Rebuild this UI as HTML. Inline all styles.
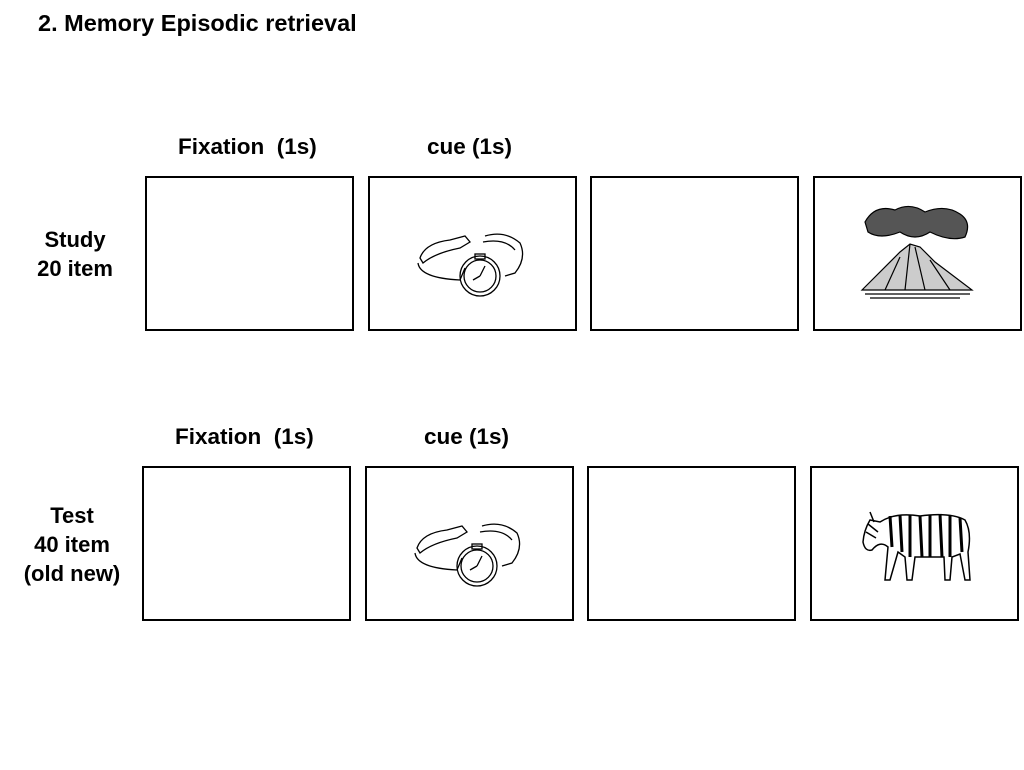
<!DOCTYPE html>
<html><head><meta charset="utf-8"><style>
body{margin:0;width:1024px;height:770px;background:#fff;position:relative;overflow:hidden;font-family:"Liberation Sans",Arial,sans-serif;font-weight:bold;color:#000}
.t{position:absolute;font-size:22.5px;white-space:pre;line-height:29px}
.r{font-size:22px}
.box{position:absolute;width:205px;height:151px;border:2px solid #000;box-sizing:content-box}
svg{position:absolute}
</style></head><body>
<div class="t" style="left:38px;top:9px;font-size:23.5px">2. Memory Episodic retrieval</div>

<div class="t" style="left:178px;top:132px">Fixation  (1s)</div>
<div class="t" style="left:427px;top:132px">cue (1s)</div>
<div class="t r" style="left:14px;top:225px;width:122px;text-align:center">Study
20 item</div>
<div class="box" style="left:145px;top:176px"></div>
<div class="box" style="left:368px;top:176px"></div>
<div class="box" style="left:590px;top:176px"></div>
<div class="box" style="left:813px;top:176px"></div>

<div class="t" style="left:175px;top:422px">Fixation  (1s)</div>
<div class="t" style="left:424px;top:422px">cue (1s)</div>
<div class="t r" style="left:6px;top:501px;width:132px;text-align:center">Test
40 item
(old new)</div>
<div class="box" style="left:142px;top:466px"></div>
<div class="box" style="left:365px;top:466px"></div>
<div class="box" style="left:587px;top:466px"></div>
<div class="box" style="left:810px;top:466px"></div>

<svg style="left:415px;top:228px" width="115" height="72" viewBox="0 0 115 72">
<g fill="none" stroke="#000" stroke-width="1.3">
<path d="M5 30 Q10 15 35 12 L50 8 L55 14 L45 20 Q20 25 8 35 Z"/>
<path d="M3 35 Q5 50 45 52 L50 40"/>
<path d="M70 8 Q90 2 105 15 Q112 30 100 45 L90 48"/>
<path d="M68 14 Q90 10 100 22"/>
<circle cx="65" cy="48" r="20"/><circle cx="65" cy="48" r="16"/>
<path d="M65 48 L70 38 M65 48 L58 52"/>
<rect x="60" y="26" width="10" height="5"/>
</g></svg>
<svg style="left:412px;top:518px" width="115" height="72" viewBox="0 0 115 72">
<g fill="none" stroke="#000" stroke-width="1.3">
<path d="M5 30 Q10 15 35 12 L50 8 L55 14 L45 20 Q20 25 8 35 Z"/>
<path d="M3 35 Q5 50 45 52 L50 40"/>
<path d="M70 8 Q90 2 105 15 Q112 30 100 45 L90 48"/>
<path d="M68 14 Q90 10 100 22"/>
<circle cx="65" cy="48" r="20"/><circle cx="65" cy="48" r="16"/>
<path d="M65 48 L70 38 M65 48 L58 52"/>
<rect x="60" y="26" width="10" height="5"/>
</g></svg>

<svg style="left:860px;top:202px" width="115" height="100" viewBox="0 0 115 100">
<g stroke="#000" fill="none" stroke-width="1.2">
<path d="M5 20 Q15 2 35 8 Q50 0 65 10 Q85 2 100 12 Q112 20 105 35 Q90 40 70 30 Q55 40 40 30 Q20 38 8 30 Z" fill="#555"/>
<path d="M2 88 L40 50 L50 42 L60 45 L75 60 L112 88 Z" fill="#ccc"/>
<path d="M50 42 L45 88 M55 45 L65 88 M40 55 L25 88 M70 58 L90 88"/>
<path d="M5 92 L110 92 M10 96 L100 96"/>
</g></svg>

<svg style="left:860px;top:502px" width="115" height="85" viewBox="0 0 115 85">
<g stroke="#000" stroke-width="1.5">
<path d="M20 20 Q35 10 60 14 Q90 10 105 18 Q112 30 108 50 L110 78 L105 78 L100 52 L92 55 L90 78 L85 78 L84 55 L55 55 L52 78 L47 78 L45 55 L38 50 L30 78 L25 78 L28 45 Q20 38 12 48 Q5 50 3 40 Q4 28 10 18 Z" fill="#fff"/>
<path d="M30 14 L32 45 M40 13 L42 50 M50 13 L50 55 M60 14 L62 55 M70 13 L70 55 M80 12 L82 55 M90 13 L90 55 M100 16 L102 50" stroke-width="3"/>
<path d="M8 22 L18 30 M6 30 L16 36 M10 10 L14 20"/>
</g></svg>
</body></html>
